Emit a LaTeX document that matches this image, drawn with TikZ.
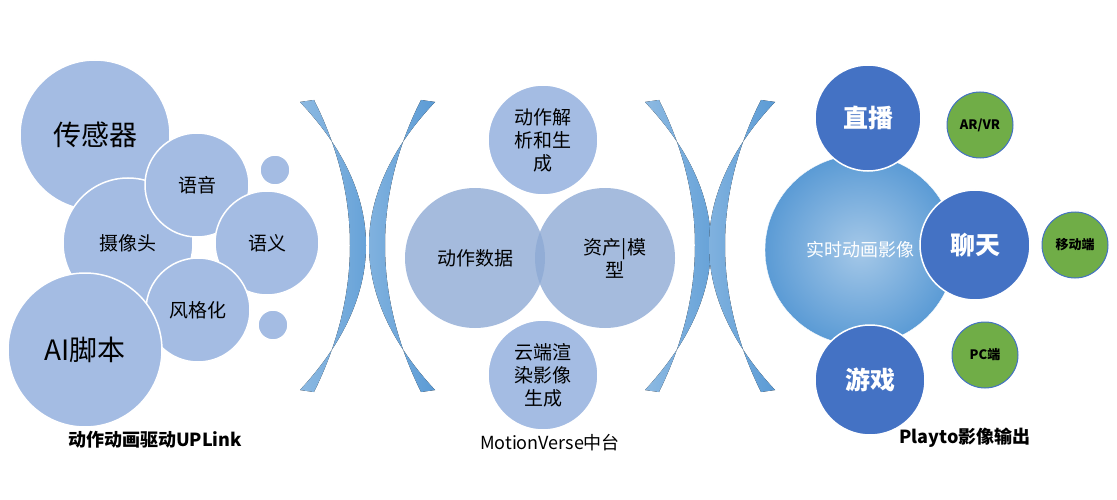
\documentclass[tikz,border=0pt]{standalone}
\usepackage{fontspec}
\setmainfont{Noto Sans CJK SC}
\usetikzlibrary{shadings}
\definecolor{lightb}{HTML}{A4BCE3}
\definecolor{midb}{HTML}{8EAAD4}
\definecolor{darkb}{HTML}{4472C4}
\definecolor{greenc}{HTML}{70AD47}
\definecolor{arcb}{HTML}{5B9BD5}
\tikzset{
  bub/.style={circle,fill=lightb,draw=white,line width=1.5pt,inner sep=0pt,text=black,align=center},
  mid/.style={circle,fill=midb,fill opacity=0.8,text opacity=1,draw=none,inner sep=0pt,align=center},
  top/.style={circle,fill=darkb,draw=white,line width=1.5pt,inner sep=0pt,text=white,font=\fontsize{25}{29}\selectfont\bfseries},
  grn/.style={circle,fill=greenc,draw=darkb,line width=1pt,inner sep=0pt,font=\fontsize{13}{15}\selectfont\bfseries},
  crest/.style={left color=arcb!70,right color=arcb,draw=none},
  caption/.style={font=\fontsize{18}{21}\selectfont\bfseries}
}
\begin{document}
\begin{tikzpicture}[x=1pt,y=-1pt]
\useasboundingbox (0,0) rectangle (1117,500);
% left group
\node[bub,minimum size=150pt,font=\fontsize{28}{32}\selectfont] (sensor) at (95,135) {传感器};
\node[bub,minimum size=130pt,font=\fontsize{19}{23}\selectfont] (camera) at (128,243) {摄像头};
\node[bub,minimum size=104pt,font=\fontsize{19}{23}\selectfont] (voice) at (197,185) {语音};
\node[bub,minimum size=104pt,font=\fontsize{19}{23}\selectfont] (sema) at (267,243) {语义};
\node[bub,minimum size=104pt,font=\fontsize{19}{23}\selectfont] (style) at (198,310) {风格化};
\node[bub,minimum size=154pt,font=\fontsize{28}{32}\selectfont] (aiscript) at (85,350) {AI脚本};
\node[bub,minimum size=30pt] (dotA) at (275,170) {};
\node[bub,minimum size=30pt] (dotB) at (273,325) {};
\node[caption] (capL) at (155,440) {动作动画驱动UPLink};
% crescents
\foreach \cx in {300,645}{
  \fill[crest] (\cx,102) .. controls (\cx+88,195) and (\cx+88,295) .. (\cx,390)
    -- (\cx+14,392) .. controls (\cx+62,295) and (\cx+62,195) .. (\cx+14,100) -- cycle;
}
\foreach \cx in {435,775}{
  \fill[crest] (\cx,102) .. controls (\cx-88,195) and (\cx-88,295) .. (\cx,390)
    -- (\cx-14,392) .. controls (\cx-62,295) and (\cx-62,195) .. (\cx-14,100) -- cycle;
}
% middle group
\node[mid,minimum size=140pt,font=\fontsize{19}{23}\selectfont] (motion) at (475,258) {动作数据};
\node[mid,minimum size=140pt,font=\fontsize{19}{23}\selectfont] (asset) at (605,258) {\hspace*{20pt}资产|模\\\hspace*{20pt}型};
\node[bub,minimum size=110pt,font=\fontsize{19}{23}\selectfont] (parse) at (543,140) {动作解\\析和生\\成};
\node[bub,minimum size=110pt,font=\fontsize{19}{23}\selectfont] (cloud) at (543,375) {云端渲\\染影像\\生成};
\node[font=\fontsize{18}{21}\selectfont] (capM) at (550,443) {MotionVerse中台};
% right group
\node[circle,inner sep=0pt,minimum size=190pt,shading=radial,inner color=arcb!55,outer color=arcb,draw=white,text=white,font=\fontsize{18}{21}\selectfont] (live) at (860,250) {实时动画影像};
\node[top,minimum size=106pt] (stream) at (868,118) {直播};
\node[top,minimum size=110pt] (chat) at (975,245) {聊天};
\node[top,minimum size=110pt] (game) at (870,380) {游戏};
\node[grn,minimum size=66pt] (arvr) at (980,125) {AR/VR};
\node[grn,minimum size=66pt] (mobile) at (1075,245) {移动端};
\node[grn,minimum size=66pt] (pc) at (985,355) {PC端};
\node[caption] (capR) at (965,438) {Playto影像输出};
\end{tikzpicture}
\end{document}
